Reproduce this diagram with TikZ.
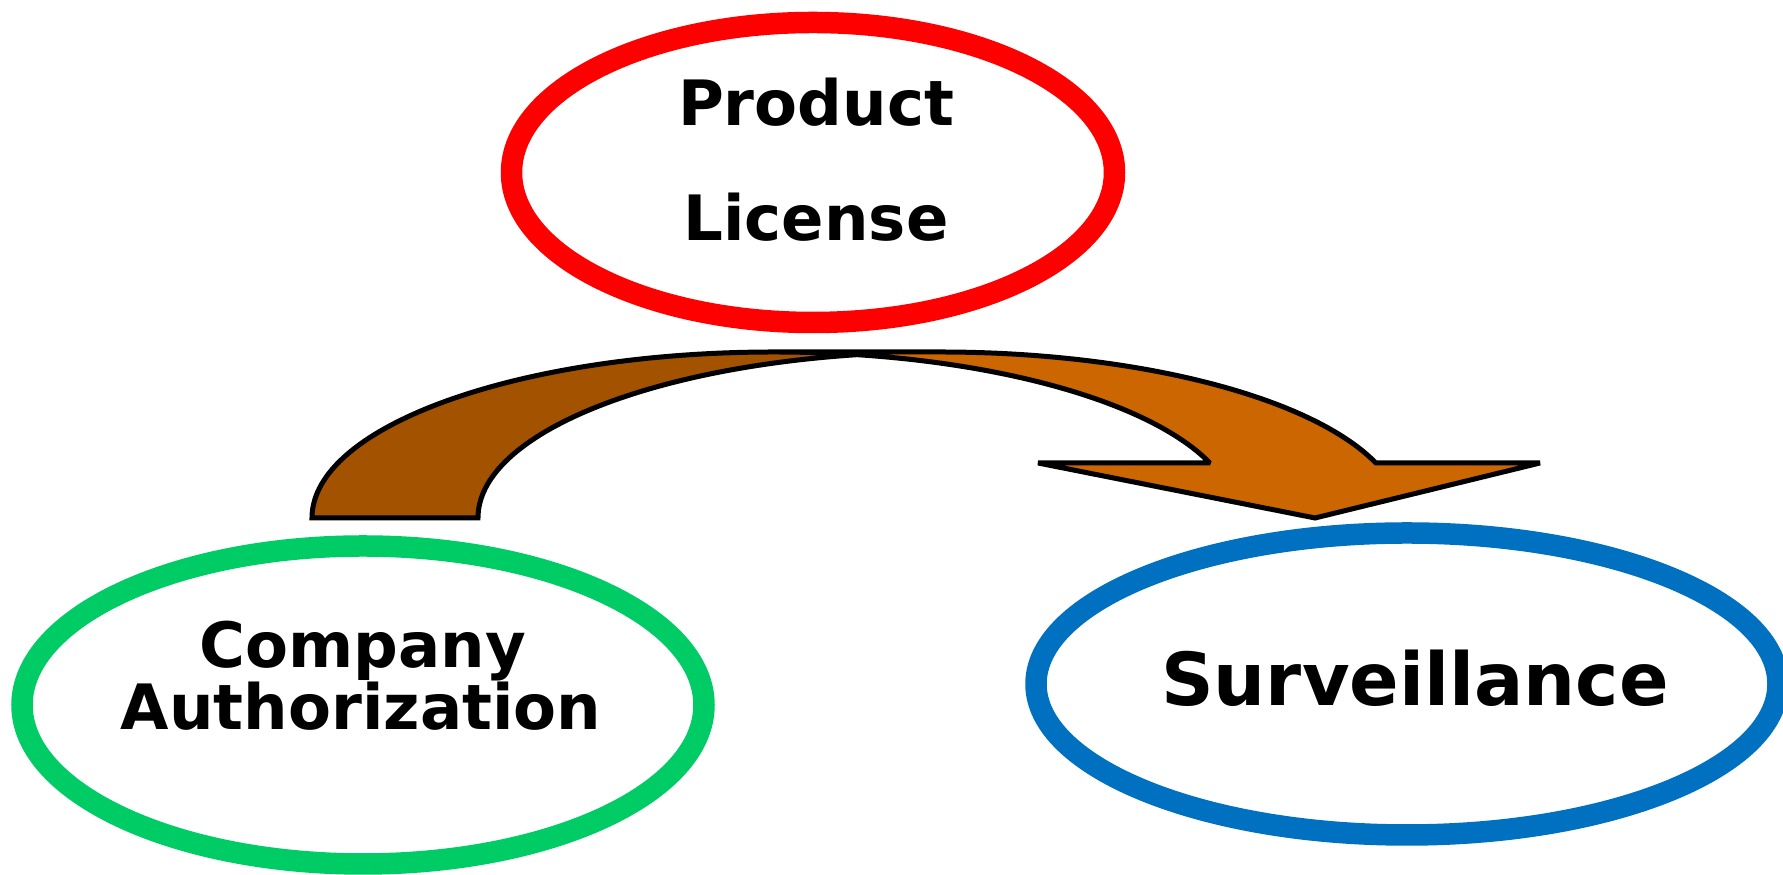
\documentclass[tikz,border=0pt]{standalone}
\usepackage{fontspec}
\setmainfont{DejaVu Sans}
\usetikzlibrary{shapes.geometric}
\definecolor{licred}{RGB}{255,0,0}
\definecolor{authgreen}{RGB}{0,204,102}
\definecolor{survblue}{RGB}{0,112,192}
\definecolor{bandfront}{RGB}{204,102,0}
\definecolor{bandback}{RGB}{163,82,0}
\tikzset{
  oval/.style={ellipse, draw, line width=2.15mm, inner sep=0pt},
  word/.style={font=\fontsize{17.8}{18}\selectfont\bfseries, anchor=base, inner sep=0pt},
  bigword/.style={word, font=\fontsize{20.8}{21}\selectfont\bfseries},
  bandline/.style={draw=black, line width=0.5mm, line join=miter, miter limit=2},
  band/.style={x radius=4.62, y radius=1.66},
}

\begin{document}
\begin{tikzpicture}
  \useasboundingbox (0,0) rectangle (17.83,8.75);
  % the three stages
  \node[oval, draw=licred, minimum width=6.03cm, minimum height=3.0cm] (lic) at (8.13,7.025) {};
  \node[oval, draw=authgreen, minimum width=6.82cm, minimum height=3.18cm] (auth) at (3.63,1.70) {};
  \node[oval, draw=survblue, minimum width=7.42cm, minimum height=3.02cm] (surv) at (14.07,1.91) {};
  \node[word] (licA) at (8.16,7.49) {Product};
  \node[word] (licB) at (8.16,6.34) {License};
  \node[word] (authA) at (3.63,2.075) {Company};
  \node[word] (authB) at (3.61,1.45) {Authorization};
  \node[bigword] (survA) at (14.15,1.69) {Surveillance};

  % curved arrow: two elliptic bands crossing under the top oval
  \coordinate (cross) at (8.570,5.203);
  \coordinate (baseL) at (3.12,3.57);
  \coordinate (topL) at (7.74,5.23);
  \coordinate (topR) at (9.40,5.23);
  \coordinate (barbR) at (15.40,4.12);
  \coordinate (tip) at (13.15,3.57);
  \coordinate (barbL) at (10.38,4.12);
  \coordinate (neckL) at (12.099,4.12);
  % back band
  \fill[bandback] (baseL) arc[band, start angle=180, end angle=79.65]
    arc[band, start angle=100.35, end angle=180] -- cycle;
  % front band with the head
  \fill[bandfront] (topL) -- (topR) arc[band, start angle=90, end angle=19.35]
    -- (barbR) -- (tip) -- (barbL) -- (neckL)
    arc[band, start angle=19.35, end angle=90] -- cycle;
  % outline
  \path[bandline] (cross) arc[band, start angle=100.35, end angle=180] -- (baseL)
    arc[band, start angle=180, end angle=90] -- (topR)
    arc[band, start angle=90, end angle=19.35] -- (barbR) -- (tip) -- (barbL) -- (neckL)
    arc[band, start angle=19.35, end angle=90];
\end{tikzpicture}
\end{document}
